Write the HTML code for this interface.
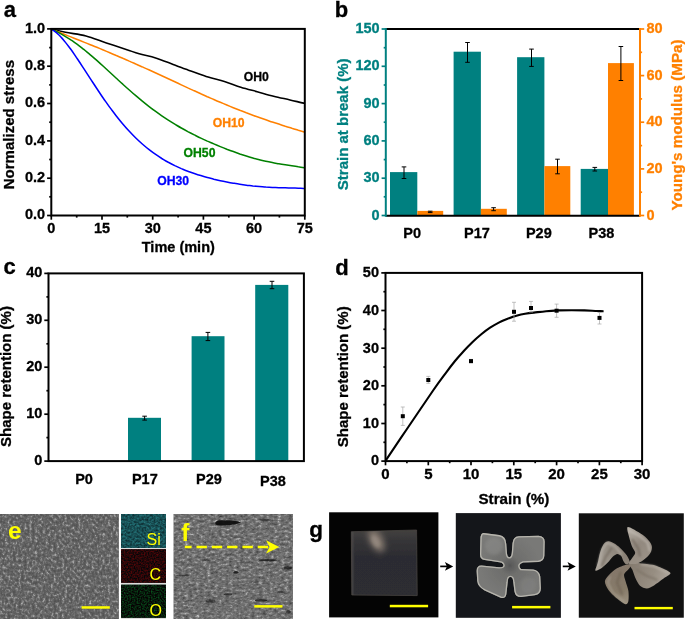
<!DOCTYPE html>
<html lang="en"><head><meta charset="utf-8"><title>Figure</title>
<style>html,body{margin:0;padding:0;background:#fff;}body{width:685px;height:619px;overflow:hidden;}svg{display:block;font-family:'Liberation Sans', Arial, sans-serif;}</style>
</head><body>
<svg width="685" height="619" viewBox="0 0 685 619">
<rect x="0" y="0" width="685" height="619" fill="#fff"/>
<g id="panel-a">
<clipPath id="clipA"><rect x="51.3" y="28.9" width="253.5" height="186.6"/></clipPath>
<path d="M51.3,28.9 C53.7,29.5 59.7,31.1 65.4,32.3 C71.2,33.5 79.1,34.2 86.0,35.9 C92.8,37.7 99.6,40.7 106.4,42.9 C113.2,45.2 121.4,47.9 126.9,49.7 C132.3,51.5 134.4,52.4 139.2,53.8 C144.0,55.2 150.2,56.2 155.6,57.9 C161.1,59.6 167.0,62.1 172.0,64.0 C176.9,65.9 182.0,67.9 185.3,69.1 C188.6,70.3 187.8,69.9 191.6,71.2 C195.4,72.5 202.6,75.2 208.1,77.0 C213.5,78.7 218.9,79.8 224.4,81.5 C229.9,83.2 235.4,85.5 240.8,87.2 C246.3,88.9 251.7,90.2 257.2,91.7 C262.7,93.2 268.2,94.8 273.6,96.2 C279.1,97.6 284.8,98.7 290.0,99.9 C295.2,101.1 302.3,102.9 304.8,103.4" fill="none" stroke="#000" stroke-width="1.55" stroke-linejoin="round" clip-path="url(#clipA)"/>
<path d="M51.3,28.9 C52.4,29.3 55.6,30.7 57.8,31.6 C60.0,32.5 62.1,33.4 64.3,34.3 C66.5,35.2 68.6,36.0 70.8,36.9 C73.0,37.8 75.1,38.6 77.3,39.5 C79.5,40.4 81.6,41.2 83.8,42.1 C86.0,43.0 88.1,43.8 90.3,44.7 C92.5,45.6 94.6,46.5 96.8,47.3 C99.0,48.2 101.1,49.1 103.3,50.0 C105.5,50.9 107.6,51.8 109.8,52.7 C112.0,53.6 114.1,54.5 116.3,55.5 C118.5,56.4 120.6,57.3 122.8,58.3 C125.0,59.2 127.1,60.1 129.3,61.1 C131.5,62.0 133.6,63.0 135.8,64.0 C138.0,64.9 140.1,65.9 142.3,66.9 C144.5,67.9 146.6,68.9 148.8,69.8 C151.0,70.8 153.1,71.8 155.3,72.8 C157.5,73.8 159.6,74.8 161.8,75.8 C164.0,76.8 166.1,77.8 168.3,78.8 C170.5,79.8 172.6,80.8 174.8,81.8 C177.0,82.9 179.1,83.9 181.3,84.9 C183.5,85.9 185.6,86.9 187.8,87.9 C190.0,88.8 192.1,89.8 194.3,90.8 C196.5,91.8 198.6,92.8 200.8,93.8 C203.0,94.7 205.1,95.7 207.3,96.7 C209.5,97.6 211.6,98.6 213.8,99.5 C216.0,100.5 218.1,101.4 220.3,102.3 C222.5,103.2 224.6,104.1 226.8,105.0 C229.0,105.9 231.1,106.8 233.3,107.7 C235.5,108.6 237.6,109.4 239.8,110.3 C242.0,111.1 244.1,111.9 246.3,112.8 C248.5,113.6 250.6,114.4 252.8,115.2 C255.0,116.0 257.1,116.8 259.3,117.5 C261.5,118.3 263.6,119.1 265.8,119.8 C268.0,120.5 270.1,121.3 272.3,122.0 C274.5,122.7 276.6,123.4 278.8,124.1 C281.0,124.8 283.1,125.5 285.3,126.2 C287.5,126.8 289.6,127.5 291.8,128.2 C294.0,128.8 296.1,129.5 298.3,130.2 C300.5,130.8 303.7,131.8 304.8,132.1" fill="none" stroke="#ff8000" stroke-width="1.55" stroke-linejoin="round" clip-path="url(#clipA)"/>
<path d="M51.3,28.9 C52.4,29.4 55.6,31.0 57.8,32.1 C60.0,33.3 62.1,34.5 64.3,35.8 C66.5,37.1 68.6,38.4 70.8,39.9 C73.0,41.3 75.1,42.9 77.3,44.4 C79.5,46.0 81.6,47.7 83.8,49.4 C86.0,51.2 88.1,53.0 90.3,54.8 C92.5,56.6 94.6,58.5 96.8,60.4 C99.0,62.4 101.1,64.3 103.3,66.3 C105.5,68.3 107.6,70.3 109.8,72.3 C112.0,74.3 114.1,76.3 116.3,78.3 C118.5,80.3 120.6,82.3 122.8,84.2 C125.0,86.2 127.1,88.1 129.3,90.0 C131.5,92.0 133.6,93.9 135.8,95.7 C138.0,97.6 140.1,99.4 142.3,101.1 C144.5,102.9 146.6,104.6 148.8,106.3 C151.0,108.0 153.1,109.6 155.3,111.2 C157.5,112.8 159.6,114.3 161.8,115.8 C164.0,117.3 166.1,118.8 168.3,120.2 C170.5,121.6 172.6,122.9 174.8,124.2 C177.0,125.5 179.1,126.8 181.3,128.0 C183.5,129.2 185.6,130.4 187.8,131.6 C190.0,132.7 192.1,133.8 194.3,134.9 C196.5,136.0 198.6,137.1 200.8,138.1 C203.0,139.1 205.1,140.1 207.3,141.1 C209.5,142.0 211.6,143.0 213.8,143.9 C216.0,144.8 218.1,145.7 220.3,146.6 C222.5,147.5 224.6,148.3 226.8,149.2 C229.0,150.0 231.1,150.8 233.3,151.6 C235.5,152.4 237.6,153.1 239.8,153.9 C242.0,154.6 244.1,155.3 246.3,156.0 C248.5,156.7 250.6,157.3 252.8,157.9 C255.0,158.6 257.1,159.1 259.3,159.7 C261.5,160.3 263.6,160.8 265.8,161.3 C268.0,161.8 270.1,162.2 272.3,162.6 C274.5,163.1 276.6,163.4 278.8,163.8 C281.0,164.2 283.1,164.5 285.3,164.8 C287.5,165.1 289.6,165.4 291.8,165.7 C294.0,166.0 296.1,166.3 298.3,166.7 C300.5,167.0 303.7,167.6 304.8,167.8" fill="none" stroke="#008000" stroke-width="1.55" stroke-linejoin="round" clip-path="url(#clipA)"/>
<path d="M51.3,28.9 C52.4,29.7 55.6,31.9 57.8,33.9 C60.0,35.8 62.1,38.3 64.3,40.9 C66.5,43.4 68.6,46.3 70.8,49.3 C73.0,52.3 75.1,55.5 77.3,58.7 C79.5,61.9 81.6,65.2 83.8,68.6 C86.0,71.9 88.1,75.3 90.3,78.6 C92.5,81.9 94.6,85.3 96.8,88.5 C99.0,91.8 101.1,95.1 103.3,98.2 C105.5,101.3 107.6,104.4 109.8,107.4 C112.0,110.3 114.1,113.2 116.3,116.0 C118.5,118.8 120.6,121.4 122.8,124.0 C125.0,126.6 127.1,129.0 129.3,131.3 C131.5,133.7 133.6,135.9 135.8,138.0 C138.0,140.1 140.1,142.1 142.3,144.0 C144.5,145.9 146.6,147.7 148.8,149.4 C151.0,151.1 153.1,152.7 155.3,154.2 C157.5,155.7 159.6,157.1 161.8,158.5 C164.0,159.8 166.1,161.1 168.3,162.3 C170.5,163.4 172.6,164.5 174.8,165.6 C177.0,166.6 179.1,167.6 181.3,168.6 C183.5,169.5 185.6,170.4 187.8,171.2 C190.0,172.0 192.1,172.8 194.3,173.5 C196.5,174.3 198.6,175.0 200.8,175.6 C203.0,176.3 205.1,176.9 207.3,177.5 C209.5,178.1 211.6,178.6 213.8,179.2 C216.0,179.7 218.1,180.2 220.3,180.7 C222.5,181.2 224.6,181.6 226.8,182.0 C229.0,182.5 231.1,182.9 233.3,183.2 C235.5,183.6 237.6,184.0 239.8,184.3 C242.0,184.6 244.1,184.9 246.3,185.2 C248.5,185.5 250.6,185.7 252.8,186.0 C255.0,186.2 257.1,186.4 259.3,186.6 C261.5,186.8 263.6,186.9 265.8,187.1 C268.0,187.2 270.1,187.3 272.3,187.4 C274.5,187.5 276.6,187.6 278.8,187.7 C281.0,187.7 283.1,187.8 285.3,187.8 C287.5,187.9 289.6,187.9 291.8,188.0 C294.0,188.1 296.1,188.1 298.3,188.2 C300.5,188.3 303.7,188.5 304.8,188.5" fill="none" stroke="#0000ff" stroke-width="1.55" stroke-linejoin="round" clip-path="url(#clipA)"/>
<rect x="51.3" y="28.9" width="253.5" height="186.6" fill="none" stroke="#000" stroke-width="2.00"/>
<line x1="47.1" y1="215.5" x2="51.3" y2="215.5" stroke="#000" stroke-width="1.70"/>
<text x="45.2" y="219.3" font-size="14.50" text-anchor="end" fill="#000" stroke="#000" stroke-width="0.30" font-weight="bold">0.0</text>
<line x1="49.2" y1="196.8" x2="51.3" y2="196.8" stroke="#000" stroke-width="1.70"/>
<line x1="47.1" y1="178.2" x2="51.3" y2="178.2" stroke="#000" stroke-width="1.70"/>
<text x="45.2" y="182.0" font-size="14.50" text-anchor="end" fill="#000" stroke="#000" stroke-width="0.30" font-weight="bold">0.2</text>
<line x1="49.2" y1="159.5" x2="51.3" y2="159.5" stroke="#000" stroke-width="1.70"/>
<line x1="47.1" y1="140.9" x2="51.3" y2="140.9" stroke="#000" stroke-width="1.70"/>
<text x="45.2" y="144.7" font-size="14.50" text-anchor="end" fill="#000" stroke="#000" stroke-width="0.30" font-weight="bold">0.4</text>
<line x1="49.2" y1="122.2" x2="51.3" y2="122.2" stroke="#000" stroke-width="1.70"/>
<line x1="47.1" y1="103.5" x2="51.3" y2="103.5" stroke="#000" stroke-width="1.70"/>
<text x="45.2" y="107.3" font-size="14.50" text-anchor="end" fill="#000" stroke="#000" stroke-width="0.30" font-weight="bold">0.6</text>
<line x1="49.2" y1="84.9" x2="51.3" y2="84.9" stroke="#000" stroke-width="1.70"/>
<line x1="47.1" y1="66.2" x2="51.3" y2="66.2" stroke="#000" stroke-width="1.70"/>
<text x="45.2" y="70.0" font-size="14.50" text-anchor="end" fill="#000" stroke="#000" stroke-width="0.30" font-weight="bold">0.8</text>
<line x1="49.2" y1="47.6" x2="51.3" y2="47.6" stroke="#000" stroke-width="1.70"/>
<line x1="47.1" y1="28.9" x2="51.3" y2="28.9" stroke="#000" stroke-width="1.70"/>
<text x="45.2" y="32.7" font-size="14.50" text-anchor="end" fill="#000" stroke="#000" stroke-width="0.30" font-weight="bold">1.0</text>
<line x1="51.3" y1="215.5" x2="51.3" y2="219.7" stroke="#000" stroke-width="1.70"/>
<text x="51.3" y="232.5" font-size="14.50" text-anchor="middle" fill="#000" stroke="#000" stroke-width="0.30" font-weight="bold">0</text>
<line x1="76.7" y1="215.5" x2="76.7" y2="217.6" stroke="#000" stroke-width="1.70"/>
<line x1="102.0" y1="215.5" x2="102.0" y2="219.7" stroke="#000" stroke-width="1.70"/>
<text x="102.0" y="232.5" font-size="14.50" text-anchor="middle" fill="#000" stroke="#000" stroke-width="0.30" font-weight="bold">15</text>
<line x1="127.3" y1="215.5" x2="127.3" y2="217.6" stroke="#000" stroke-width="1.70"/>
<line x1="152.7" y1="215.5" x2="152.7" y2="219.7" stroke="#000" stroke-width="1.70"/>
<text x="152.7" y="232.5" font-size="14.50" text-anchor="middle" fill="#000" stroke="#000" stroke-width="0.30" font-weight="bold">30</text>
<line x1="178.1" y1="215.5" x2="178.1" y2="217.6" stroke="#000" stroke-width="1.70"/>
<line x1="203.4" y1="215.5" x2="203.4" y2="219.7" stroke="#000" stroke-width="1.70"/>
<text x="203.4" y="232.5" font-size="14.50" text-anchor="middle" fill="#000" stroke="#000" stroke-width="0.30" font-weight="bold">45</text>
<line x1="228.8" y1="215.5" x2="228.8" y2="217.6" stroke="#000" stroke-width="1.70"/>
<line x1="254.1" y1="215.5" x2="254.1" y2="219.7" stroke="#000" stroke-width="1.70"/>
<text x="254.1" y="232.5" font-size="14.50" text-anchor="middle" fill="#000" stroke="#000" stroke-width="0.30" font-weight="bold">60</text>
<line x1="279.4" y1="215.5" x2="279.4" y2="217.6" stroke="#000" stroke-width="1.70"/>
<line x1="304.8" y1="215.5" x2="304.8" y2="219.7" stroke="#000" stroke-width="1.70"/>
<text x="304.8" y="232.5" font-size="14.50" text-anchor="middle" fill="#000" stroke="#000" stroke-width="0.30" font-weight="bold">75</text>
<text x="178.3" y="252.0" font-size="14.50" text-anchor="middle" fill="#000" stroke="#000" stroke-width="0.30" font-weight="bold">Time (min)</text>
<text x="0.0" y="0.0" font-size="15.00" text-anchor="middle" fill="#000" stroke="#000" stroke-width="0.30" font-weight="bold" transform="translate(14.4 124.6) rotate(-90)">Normalized stress</text>
<text x="256.3" y="80.9" font-size="12.20" text-anchor="middle" fill="#000" stroke="#000" stroke-width="0.30" font-weight="bold">OH0</text>
<text x="228.7" y="126.9" font-size="12.20" text-anchor="middle" fill="#ff8000" stroke="#ff8000" stroke-width="0.30" font-weight="bold">OH10</text>
<text x="199.5" y="156.5" font-size="12.20" text-anchor="middle" fill="#008000" stroke="#008000" stroke-width="0.30" font-weight="bold">OH50</text>
<text x="173.2" y="185.1" font-size="12.20" text-anchor="middle" fill="#0000ff" stroke="#0000ff" stroke-width="0.30" font-weight="bold">OH30</text>
<text x="9.8" y="16.8" font-size="22.00" text-anchor="middle" fill="#000" stroke="#000" stroke-width="0.30" font-weight="bold">a</text>
</g>
<g id="panel-b">
<rect x="390.0" y="172.1" width="27.3" height="43.7" fill="#008080"/>
<rect x="417.3" y="210.9" width="25.9" height="4.9" fill="#ff8000"/>
<rect x="453.6" y="51.7" width="27.3" height="164.1" fill="#008080"/>
<rect x="480.9" y="208.8" width="25.9" height="7.0" fill="#ff8000"/>
<rect x="517.1" y="57.2" width="27.3" height="158.6" fill="#008080"/>
<rect x="544.4" y="166.1" width="25.9" height="49.7" fill="#ff8000"/>
<rect x="580.7" y="168.9" width="27.3" height="46.9" fill="#008080"/>
<rect x="608.0" y="63.1" width="25.9" height="152.7" fill="#ff8000"/>
<line x1="404.0" y1="166.9" x2="404.0" y2="178.5" stroke="#000" stroke-width="1.00"/>
<line x1="401.7" y1="166.9" x2="406.3" y2="166.9" stroke="#000" stroke-width="1.00"/>
<line x1="401.7" y1="178.5" x2="406.3" y2="178.5" stroke="#000" stroke-width="1.00"/>
<line x1="467.5" y1="42.5" x2="467.5" y2="62.3" stroke="#000" stroke-width="1.00"/>
<line x1="465.2" y1="42.5" x2="469.8" y2="42.5" stroke="#000" stroke-width="1.00"/>
<line x1="465.2" y1="62.3" x2="469.8" y2="62.3" stroke="#000" stroke-width="1.00"/>
<line x1="531.5" y1="49.1" x2="531.5" y2="66.4" stroke="#000" stroke-width="1.00"/>
<line x1="529.2" y1="49.1" x2="533.8" y2="49.1" stroke="#000" stroke-width="1.00"/>
<line x1="529.2" y1="66.4" x2="533.8" y2="66.4" stroke="#000" stroke-width="1.00"/>
<line x1="594.8" y1="167.4" x2="594.8" y2="171.0" stroke="#000" stroke-width="1.00"/>
<line x1="592.5" y1="167.4" x2="597.1" y2="167.4" stroke="#000" stroke-width="1.00"/>
<line x1="592.5" y1="171.0" x2="597.1" y2="171.0" stroke="#000" stroke-width="1.00"/>
<line x1="430.2" y1="211.2" x2="430.2" y2="212.6" stroke="#000" stroke-width="1.00"/>
<line x1="427.9" y1="211.2" x2="432.5" y2="211.2" stroke="#000" stroke-width="1.00"/>
<line x1="427.9" y1="212.6" x2="432.5" y2="212.6" stroke="#000" stroke-width="1.00"/>
<line x1="493.6" y1="207.7" x2="493.6" y2="210.7" stroke="#000" stroke-width="1.00"/>
<line x1="491.3" y1="207.7" x2="495.9" y2="207.7" stroke="#000" stroke-width="1.00"/>
<line x1="491.3" y1="210.7" x2="495.9" y2="210.7" stroke="#000" stroke-width="1.00"/>
<line x1="557.5" y1="159.2" x2="557.5" y2="173.8" stroke="#000" stroke-width="1.00"/>
<line x1="555.2" y1="159.2" x2="559.8" y2="159.2" stroke="#000" stroke-width="1.00"/>
<line x1="555.2" y1="173.8" x2="559.8" y2="173.8" stroke="#000" stroke-width="1.00"/>
<line x1="620.9" y1="46.5" x2="620.9" y2="80.5" stroke="#000" stroke-width="1.00"/>
<line x1="618.6" y1="46.5" x2="623.2" y2="46.5" stroke="#000" stroke-width="1.00"/>
<line x1="618.6" y1="80.5" x2="623.2" y2="80.5" stroke="#000" stroke-width="1.00"/>
<line x1="385.8" y1="29.0" x2="640.0" y2="29.0" stroke="#000" stroke-width="2.00"/>
<line x1="385.8" y1="215.8" x2="640.0" y2="215.8" stroke="#000" stroke-width="2.00"/>
<line x1="385.8" y1="28.0" x2="385.8" y2="216.8" stroke="#008080" stroke-width="2.00"/>
<line x1="640.0" y1="28.0" x2="640.0" y2="216.8" stroke="#ff8000" stroke-width="2.00"/>
<line x1="381.6" y1="215.5" x2="385.8" y2="215.5" stroke="#008080" stroke-width="1.70"/>
<text x="379.6" y="219.5" font-size="14.50" text-anchor="end" fill="#008080" stroke="#008080" stroke-width="0.30" font-weight="bold">0</text>
<line x1="383.7" y1="196.8" x2="385.8" y2="196.8" stroke="#008080" stroke-width="1.70"/>
<line x1="381.6" y1="178.2" x2="385.8" y2="178.2" stroke="#008080" stroke-width="1.70"/>
<text x="379.6" y="182.2" font-size="14.50" text-anchor="end" fill="#008080" stroke="#008080" stroke-width="0.30" font-weight="bold">30</text>
<line x1="383.7" y1="159.6" x2="385.8" y2="159.6" stroke="#008080" stroke-width="1.70"/>
<line x1="381.6" y1="140.9" x2="385.8" y2="140.9" stroke="#008080" stroke-width="1.70"/>
<text x="379.6" y="144.9" font-size="14.50" text-anchor="end" fill="#008080" stroke="#008080" stroke-width="0.30" font-weight="bold">60</text>
<line x1="383.7" y1="122.2" x2="385.8" y2="122.2" stroke="#008080" stroke-width="1.70"/>
<line x1="381.6" y1="103.6" x2="385.8" y2="103.6" stroke="#008080" stroke-width="1.70"/>
<text x="379.6" y="107.6" font-size="14.50" text-anchor="end" fill="#008080" stroke="#008080" stroke-width="0.30" font-weight="bold">90</text>
<line x1="383.7" y1="85.0" x2="385.8" y2="85.0" stroke="#008080" stroke-width="1.70"/>
<line x1="381.6" y1="66.3" x2="385.8" y2="66.3" stroke="#008080" stroke-width="1.70"/>
<text x="379.6" y="70.3" font-size="14.50" text-anchor="end" fill="#008080" stroke="#008080" stroke-width="0.30" font-weight="bold">120</text>
<line x1="383.7" y1="47.7" x2="385.8" y2="47.7" stroke="#008080" stroke-width="1.70"/>
<line x1="381.6" y1="29.0" x2="385.8" y2="29.0" stroke="#008080" stroke-width="1.70"/>
<text x="379.6" y="33.0" font-size="14.50" text-anchor="end" fill="#008080" stroke="#008080" stroke-width="0.30" font-weight="bold">150</text>
<line x1="640.0" y1="215.5" x2="644.2" y2="215.5" stroke="#ff8000" stroke-width="1.70"/>
<text x="646.4" y="219.5" font-size="14.50" text-anchor="start" fill="#ff8000" stroke="#ff8000" stroke-width="0.30" font-weight="bold">0</text>
<line x1="640.0" y1="192.2" x2="642.1" y2="192.2" stroke="#ff8000" stroke-width="1.70"/>
<line x1="640.0" y1="168.9" x2="644.2" y2="168.9" stroke="#ff8000" stroke-width="1.70"/>
<text x="646.4" y="172.9" font-size="14.50" text-anchor="start" fill="#ff8000" stroke="#ff8000" stroke-width="0.30" font-weight="bold">20</text>
<line x1="640.0" y1="145.6" x2="642.1" y2="145.6" stroke="#ff8000" stroke-width="1.70"/>
<line x1="640.0" y1="122.2" x2="644.2" y2="122.2" stroke="#ff8000" stroke-width="1.70"/>
<text x="646.4" y="126.2" font-size="14.50" text-anchor="start" fill="#ff8000" stroke="#ff8000" stroke-width="0.30" font-weight="bold">40</text>
<line x1="640.0" y1="98.9" x2="642.1" y2="98.9" stroke="#ff8000" stroke-width="1.70"/>
<line x1="640.0" y1="75.6" x2="644.2" y2="75.6" stroke="#ff8000" stroke-width="1.70"/>
<text x="646.4" y="79.6" font-size="14.50" text-anchor="start" fill="#ff8000" stroke="#ff8000" stroke-width="0.30" font-weight="bold">60</text>
<line x1="640.0" y1="52.3" x2="642.1" y2="52.3" stroke="#ff8000" stroke-width="1.70"/>
<line x1="640.0" y1="29.0" x2="644.2" y2="29.0" stroke="#ff8000" stroke-width="1.70"/>
<text x="646.4" y="33.0" font-size="14.50" text-anchor="start" fill="#ff8000" stroke="#ff8000" stroke-width="0.30" font-weight="bold">80</text>
<text x="412.2" y="237.8" font-size="14.50" text-anchor="middle" fill="#000" stroke="#000" stroke-width="0.30" font-weight="bold">P0</text>
<text x="476.9" y="237.8" font-size="14.50" text-anchor="middle" fill="#000" stroke="#000" stroke-width="0.30" font-weight="bold">P17</text>
<text x="538.8" y="237.8" font-size="14.50" text-anchor="middle" fill="#000" stroke="#000" stroke-width="0.30" font-weight="bold">P29</text>
<text x="601.4" y="237.8" font-size="14.50" text-anchor="middle" fill="#000" stroke="#000" stroke-width="0.30" font-weight="bold">P38</text>
<text x="0.0" y="0.0" font-size="15.00" text-anchor="middle" fill="#008080" stroke="#008080" stroke-width="0.30" font-weight="bold" transform="translate(348.4 124.3) rotate(-90)">Strain at break (%)</text>
<text x="0.0" y="0.0" font-size="15.20" text-anchor="middle" fill="#ff8000" stroke="#ff8000" stroke-width="0.30" font-weight="bold" transform="translate(681.7 125.0) rotate(-90)">Young's modulus (MPa)</text>
<text x="341.4" y="17.4" font-size="22.00" text-anchor="middle" fill="#000" stroke="#000" stroke-width="0.30" font-weight="bold">b</text>
</g>
<g id="panel-c">
<rect x="128.0" y="417.8" width="33.0" height="43.3" fill="#008080"/>
<rect x="191.6" y="336.2" width="32.9" height="124.9" fill="#008080"/>
<rect x="255.2" y="284.9" width="33.1" height="176.2" fill="#008080"/>
<line x1="144.6" y1="416.2" x2="144.6" y2="420.1" stroke="#000" stroke-width="1.00"/>
<line x1="142.3" y1="416.2" x2="146.9" y2="416.2" stroke="#000" stroke-width="1.00"/>
<line x1="142.3" y1="420.1" x2="146.9" y2="420.1" stroke="#000" stroke-width="1.00"/>
<line x1="207.9" y1="332.4" x2="207.9" y2="340.6" stroke="#000" stroke-width="1.00"/>
<line x1="205.6" y1="332.4" x2="210.2" y2="332.4" stroke="#000" stroke-width="1.00"/>
<line x1="205.6" y1="340.6" x2="210.2" y2="340.6" stroke="#000" stroke-width="1.00"/>
<line x1="272.0" y1="281.3" x2="272.0" y2="288.7" stroke="#000" stroke-width="1.00"/>
<line x1="269.7" y1="281.3" x2="274.3" y2="281.3" stroke="#000" stroke-width="1.00"/>
<line x1="269.7" y1="288.7" x2="274.3" y2="288.7" stroke="#000" stroke-width="1.00"/>
<rect x="48.5" y="273.4" width="255.4" height="187.7" fill="none" stroke="#000" stroke-width="2.00"/>
<line x1="44.3" y1="461.1" x2="48.5" y2="461.1" stroke="#000" stroke-width="1.70"/>
<text x="42.4" y="465.1" font-size="14.50" text-anchor="end" fill="#000" stroke="#000" stroke-width="0.30" font-weight="bold">0</text>
<line x1="46.4" y1="437.6" x2="48.5" y2="437.6" stroke="#000" stroke-width="1.70"/>
<line x1="44.3" y1="414.2" x2="48.5" y2="414.2" stroke="#000" stroke-width="1.70"/>
<text x="42.4" y="418.2" font-size="14.50" text-anchor="end" fill="#000" stroke="#000" stroke-width="0.30" font-weight="bold">10</text>
<line x1="46.4" y1="390.7" x2="48.5" y2="390.7" stroke="#000" stroke-width="1.70"/>
<line x1="44.3" y1="367.2" x2="48.5" y2="367.2" stroke="#000" stroke-width="1.70"/>
<text x="42.4" y="371.2" font-size="14.50" text-anchor="end" fill="#000" stroke="#000" stroke-width="0.30" font-weight="bold">20</text>
<line x1="46.4" y1="343.8" x2="48.5" y2="343.8" stroke="#000" stroke-width="1.70"/>
<line x1="44.3" y1="320.3" x2="48.5" y2="320.3" stroke="#000" stroke-width="1.70"/>
<text x="42.4" y="324.3" font-size="14.50" text-anchor="end" fill="#000" stroke="#000" stroke-width="0.30" font-weight="bold">30</text>
<line x1="46.4" y1="296.9" x2="48.5" y2="296.9" stroke="#000" stroke-width="1.70"/>
<line x1="44.3" y1="273.4" x2="48.5" y2="273.4" stroke="#000" stroke-width="1.70"/>
<text x="42.4" y="277.4" font-size="14.50" text-anchor="end" fill="#000" stroke="#000" stroke-width="0.30" font-weight="bold">40</text>
<text x="84.0" y="484.3" font-size="14.50" text-anchor="middle" fill="#000" stroke="#000" stroke-width="0.30" font-weight="bold">P0</text>
<text x="144.8" y="484.3" font-size="14.50" text-anchor="middle" fill="#000" stroke="#000" stroke-width="0.30" font-weight="bold">P17</text>
<text x="209.0" y="484.3" font-size="14.50" text-anchor="middle" fill="#000" stroke="#000" stroke-width="0.30" font-weight="bold">P29</text>
<text x="273.0" y="485.6" font-size="14.50" text-anchor="middle" fill="#000" stroke="#000" stroke-width="0.30" font-weight="bold">P38</text>
<text x="0.0" y="0.0" font-size="15.00" text-anchor="middle" fill="#000" stroke="#000" stroke-width="0.30" font-weight="bold" transform="translate(11.4 376.5) rotate(-90)">Shape retention (%)</text>
<text x="9.6" y="273.7" font-size="22.00" text-anchor="middle" fill="#000" stroke="#000" stroke-width="0.30" font-weight="bold">c</text>
</g>
<g id="panel-d">
<path d="M385.8,460.4 C389.3,455.2 398.7,441.1 406.6,429.5 C414.5,417.9 426.5,400.0 433.1,390.5 C439.7,381.0 442.7,377.2 446.3,372.3 C449.9,367.4 452.1,364.6 455.0,361.0 C457.9,357.4 460.9,354.2 463.8,351.0 C466.7,347.8 469.7,344.8 472.6,342.0 C475.5,339.2 478.4,336.7 481.3,334.3 C484.2,331.9 487.2,329.6 490.1,327.7 C493.0,325.8 495.9,324.1 498.8,322.6 C501.7,321.1 504.7,319.9 507.6,318.8 C510.5,317.7 513.5,316.6 516.4,315.8 C519.3,315.0 522.2,314.3 525.1,313.8 C528.0,313.3 530.4,313.0 533.9,312.6 C537.4,312.2 541.9,311.6 546.1,311.2 C550.3,310.8 554.6,310.6 558.9,310.4 C563.1,310.2 567.4,310.2 571.6,310.2 C575.9,310.2 580.1,310.3 584.4,310.4 C588.7,310.5 594.0,310.9 597.2,311.0 C600.4,311.1 602.5,311.2 603.6,311.2" fill="none" stroke="#000" stroke-width="2.1" stroke-linejoin="round"/>
<line x1="402.8" y1="407.0" x2="402.8" y2="425.4" stroke="#a8a8a8" stroke-width="0.70"/>
<line x1="400.8" y1="407.0" x2="404.8" y2="407.0" stroke="#a8a8a8" stroke-width="0.70"/>
<line x1="400.8" y1="425.4" x2="404.8" y2="425.4" stroke="#a8a8a8" stroke-width="0.70"/>
<rect x="400.8" y="414.2" width="4.0" height="4.0" fill="#000"/>
<line x1="428.3" y1="376.4" x2="428.3" y2="383.3" stroke="#a8a8a8" stroke-width="0.70"/>
<line x1="426.3" y1="376.4" x2="430.3" y2="376.4" stroke="#a8a8a8" stroke-width="0.70"/>
<line x1="426.3" y1="383.3" x2="430.3" y2="383.3" stroke="#a8a8a8" stroke-width="0.70"/>
<rect x="426.3" y="378.0" width="4.0" height="4.0" fill="#000"/>
<line x1="471.0" y1="359.4" x2="471.0" y2="362.8" stroke="#a8a8a8" stroke-width="0.70"/>
<line x1="469.0" y1="359.4" x2="473.0" y2="359.4" stroke="#a8a8a8" stroke-width="0.70"/>
<line x1="469.0" y1="362.8" x2="473.0" y2="362.8" stroke="#a8a8a8" stroke-width="0.70"/>
<rect x="469.0" y="359.1" width="4.0" height="4.0" fill="#000"/>
<line x1="514.0" y1="302.3" x2="514.0" y2="321.2" stroke="#a8a8a8" stroke-width="0.70"/>
<line x1="512.0" y1="302.3" x2="516.0" y2="302.3" stroke="#a8a8a8" stroke-width="0.70"/>
<line x1="512.0" y1="321.2" x2="516.0" y2="321.2" stroke="#a8a8a8" stroke-width="0.70"/>
<rect x="512.0" y="309.8" width="4.0" height="4.0" fill="#000"/>
<line x1="531.0" y1="301.4" x2="531.0" y2="312.0" stroke="#a8a8a8" stroke-width="0.70"/>
<line x1="529.0" y1="301.4" x2="533.0" y2="301.4" stroke="#a8a8a8" stroke-width="0.70"/>
<line x1="529.0" y1="312.0" x2="533.0" y2="312.0" stroke="#a8a8a8" stroke-width="0.70"/>
<rect x="529.0" y="306.0" width="4.0" height="4.0" fill="#000"/>
<line x1="556.6" y1="304.1" x2="556.6" y2="317.3" stroke="#a8a8a8" stroke-width="0.70"/>
<line x1="554.6" y1="304.1" x2="558.6" y2="304.1" stroke="#a8a8a8" stroke-width="0.70"/>
<line x1="554.6" y1="317.3" x2="558.6" y2="317.3" stroke="#a8a8a8" stroke-width="0.70"/>
<rect x="554.6" y="308.7" width="4.0" height="4.0" fill="#000"/>
<line x1="599.5" y1="312.5" x2="599.5" y2="324.0" stroke="#a8a8a8" stroke-width="0.70"/>
<line x1="597.5" y1="312.5" x2="601.5" y2="312.5" stroke="#a8a8a8" stroke-width="0.70"/>
<line x1="597.5" y1="324.0" x2="601.5" y2="324.0" stroke="#a8a8a8" stroke-width="0.70"/>
<rect x="597.5" y="315.9" width="4.0" height="4.0" fill="#000"/>
<rect x="385.5" y="272.9" width="256.6" height="188.2" fill="none" stroke="#000" stroke-width="2.00"/>
<line x1="381.3" y1="461.1" x2="385.5" y2="461.1" stroke="#000" stroke-width="1.70"/>
<text x="379.0" y="465.4" font-size="14.50" text-anchor="end" fill="#000" stroke="#000" stroke-width="0.30" font-weight="bold">0</text>
<line x1="383.4" y1="442.3" x2="385.5" y2="442.3" stroke="#000" stroke-width="1.70"/>
<line x1="381.3" y1="423.5" x2="385.5" y2="423.5" stroke="#000" stroke-width="1.70"/>
<text x="379.0" y="427.8" font-size="14.50" text-anchor="end" fill="#000" stroke="#000" stroke-width="0.30" font-weight="bold">10</text>
<line x1="383.4" y1="404.6" x2="385.5" y2="404.6" stroke="#000" stroke-width="1.70"/>
<line x1="381.3" y1="385.8" x2="385.5" y2="385.8" stroke="#000" stroke-width="1.70"/>
<text x="379.0" y="390.1" font-size="14.50" text-anchor="end" fill="#000" stroke="#000" stroke-width="0.30" font-weight="bold">20</text>
<line x1="383.4" y1="367.0" x2="385.5" y2="367.0" stroke="#000" stroke-width="1.70"/>
<line x1="381.3" y1="348.2" x2="385.5" y2="348.2" stroke="#000" stroke-width="1.70"/>
<text x="379.0" y="352.5" font-size="14.50" text-anchor="end" fill="#000" stroke="#000" stroke-width="0.30" font-weight="bold">30</text>
<line x1="383.4" y1="329.3" x2="385.5" y2="329.3" stroke="#000" stroke-width="1.70"/>
<line x1="381.3" y1="310.5" x2="385.5" y2="310.5" stroke="#000" stroke-width="1.70"/>
<text x="379.0" y="314.8" font-size="14.50" text-anchor="end" fill="#000" stroke="#000" stroke-width="0.30" font-weight="bold">40</text>
<line x1="383.4" y1="291.7" x2="385.5" y2="291.7" stroke="#000" stroke-width="1.70"/>
<line x1="381.3" y1="272.9" x2="385.5" y2="272.9" stroke="#000" stroke-width="1.70"/>
<text x="379.0" y="277.2" font-size="14.50" text-anchor="end" fill="#000" stroke="#000" stroke-width="0.30" font-weight="bold">50</text>
<line x1="385.5" y1="461.1" x2="385.5" y2="465.3" stroke="#000" stroke-width="1.70"/>
<text x="385.5" y="479.4" font-size="15.00" text-anchor="middle" fill="#000" stroke="#000" stroke-width="0.30" font-weight="bold">0</text>
<line x1="406.9" y1="461.1" x2="406.9" y2="463.2" stroke="#000" stroke-width="1.70"/>
<line x1="428.3" y1="461.1" x2="428.3" y2="465.3" stroke="#000" stroke-width="1.70"/>
<text x="428.3" y="479.4" font-size="15.00" text-anchor="middle" fill="#000" stroke="#000" stroke-width="0.30" font-weight="bold">5</text>
<line x1="449.7" y1="461.1" x2="449.7" y2="463.2" stroke="#000" stroke-width="1.70"/>
<line x1="471.0" y1="461.1" x2="471.0" y2="465.3" stroke="#000" stroke-width="1.70"/>
<text x="471.0" y="479.4" font-size="15.00" text-anchor="middle" fill="#000" stroke="#000" stroke-width="0.30" font-weight="bold">10</text>
<line x1="492.4" y1="461.1" x2="492.4" y2="463.2" stroke="#000" stroke-width="1.70"/>
<line x1="513.8" y1="461.1" x2="513.8" y2="465.3" stroke="#000" stroke-width="1.70"/>
<text x="513.8" y="479.4" font-size="15.00" text-anchor="middle" fill="#000" stroke="#000" stroke-width="0.30" font-weight="bold">15</text>
<line x1="535.2" y1="461.1" x2="535.2" y2="463.2" stroke="#000" stroke-width="1.70"/>
<line x1="556.6" y1="461.1" x2="556.6" y2="465.3" stroke="#000" stroke-width="1.70"/>
<text x="556.6" y="479.4" font-size="15.00" text-anchor="middle" fill="#000" stroke="#000" stroke-width="0.30" font-weight="bold">20</text>
<line x1="578.0" y1="461.1" x2="578.0" y2="463.2" stroke="#000" stroke-width="1.70"/>
<line x1="599.4" y1="461.1" x2="599.4" y2="465.3" stroke="#000" stroke-width="1.70"/>
<text x="599.4" y="479.4" font-size="15.00" text-anchor="middle" fill="#000" stroke="#000" stroke-width="0.30" font-weight="bold">25</text>
<line x1="620.8" y1="461.1" x2="620.8" y2="463.2" stroke="#000" stroke-width="1.70"/>
<line x1="642.1" y1="461.1" x2="642.1" y2="465.3" stroke="#000" stroke-width="1.70"/>
<text x="642.1" y="479.4" font-size="15.00" text-anchor="middle" fill="#000" stroke="#000" stroke-width="0.30" font-weight="bold">30</text>
<text x="513.9" y="504.2" font-size="15.20" text-anchor="middle" fill="#000" stroke="#000" stroke-width="0.30" font-weight="bold">Strain (%)</text>
<text x="0.0" y="0.0" font-size="15.00" text-anchor="middle" fill="#000" stroke="#000" stroke-width="0.30" font-weight="bold" transform="translate(347.9 376.8) rotate(-90)">Shape retention (%)</text>
<text x="342.0" y="274.9" font-size="22.00" text-anchor="middle" fill="#000" stroke="#000" stroke-width="0.30" font-weight="bold">d</text>
</g>
<defs>
<filter id="semE" x="0" y="0" width="100%" height="100%" color-interpolation-filters="sRGB">
<feTurbulence type="fractalNoise" baseFrequency="0.37 0.33" numOctaves="3" seed="3" result="n"/>
<feColorMatrix in="n" type="matrix" values="1 0 0 0 0  1 0 0 0 0  1 0 0 0 0  0 0 0 0 1"/>
<feComponentTransfer>
<feFuncR type="table" tableValues="0.31 0.31 0.32 0.34 0.365 0.395 0.45 0.54 0.64 0.72 0.78"/>
<feFuncG type="table" tableValues="0.31 0.31 0.32 0.34 0.365 0.395 0.45 0.54 0.64 0.72 0.78"/>
<feFuncB type="table" tableValues="0.31 0.31 0.32 0.34 0.365 0.395 0.45 0.54 0.64 0.72 0.78"/>
</feComponentTransfer>
</filter>
<filter id="semF" x="0" y="0" width="100%" height="100%" color-interpolation-filters="sRGB">
<feTurbulence type="fractalNoise" baseFrequency="0.27 0.39" numOctaves="3" seed="11" result="n"/>
<feColorMatrix in="n" type="matrix" values="1 0 0 0 0  1 0 0 0 0  1 0 0 0 0  0 0 0 0 1"/>
<feComponentTransfer>
<feFuncR type="table" tableValues="0.2 0.25 0.31 0.36 0.40 0.435 0.48 0.56 0.66 0.76 0.82"/>
<feFuncG type="table" tableValues="0.2 0.25 0.31 0.36 0.40 0.435 0.48 0.56 0.66 0.76 0.82"/>
<feFuncB type="table" tableValues="0.2 0.25 0.31 0.36 0.40 0.435 0.48 0.56 0.66 0.76 0.82"/>
</feComponentTransfer>
</filter>
<filter id="edsSi" x="0" y="0" width="100%" height="100%" color-interpolation-filters="sRGB">
<feTurbulence type="fractalNoise" baseFrequency="0.43 0.47" numOctaves="2" seed="5" result="n"/>
<feColorMatrix in="n" type="matrix" values="0.15 0 0 0 0.02  0.48 0 0 0 0.075  0.48 0 0 0 0.095  0 0 0 0 1"/>
</filter>
<filter id="edsC" x="0" y="0" width="100%" height="100%" color-interpolation-filters="sRGB">
<feTurbulence type="fractalNoise" baseFrequency="0.7" numOctaves="1" seed="8" result="n"/>
<feColorMatrix in="n" type="matrix" values="0.75 0 0 0 -0.225  0 0 0 0 0.022  0 0 0 0 0.03  0 0 0 0 1"/>
</filter>
<filter id="edsO" x="0" y="0" width="100%" height="100%" color-interpolation-filters="sRGB">
<feTurbulence type="fractalNoise" baseFrequency="0.7" numOctaves="1" seed="13" result="n"/>
<feColorMatrix in="n" type="matrix" values="0 0 0 0 0.025  0 0.75 0 0 -0.27  0 0.22 0 0 -0.065  0 0 0 0 1"/>
</filter>
<filter id="blur1" x="-60%" y="-60%" width="220%" height="220%"><feGaussianBlur stdDeviation="0.9"/></filter>
<filter id="blur2" x="-60%" y="-60%" width="220%" height="220%"><feGaussianBlur stdDeviation="1.6"/></filter>
<filter id="blur3" x="-60%" y="-60%" width="220%" height="220%"><feGaussianBlur stdDeviation="3"/></filter>
<filter id="blur05" x="-60%" y="-60%" width="220%" height="220%"><feGaussianBlur stdDeviation="0.5"/></filter>
</defs>
<g id="panel-e">
<clipPath id="clipE"><rect x="0.00" y="514.00" width="118.70" height="105.50"/></clipPath>
<g clip-path="url(#clipE)">
<rect x="-1" y="513" width="122" height="109" fill="#6b6b6b"/>
<rect x="-1" y="513" width="122" height="109" filter="url(#semE)"/>
</g>
<rect x="81.6" y="606.2" width="28.2" height="2.5" fill="#ffff00"/>
<text x="8.0" y="538.6" font-size="24.5" font-weight="bold" fill="#ffff00">e</text>
<rect x="121.1" y="514.0" width="44.9" height="105.5" fill="#dcdcdc"/>
<clipPath id="clipSi"><rect x="121.10" y="514.00" width="44.90" height="34.00"/></clipPath>
<g clip-path="url(#clipSi)">
<rect x="120" y="513" width="48" height="38" fill="#1c5a5e"/>
<rect x="120" y="513" width="48" height="38" filter="url(#edsSi)"/>
</g>
<clipPath id="clipC"><rect x="121.10" y="549.30" width="44.90" height="33.40"/></clipPath>
<g clip-path="url(#clipC)">
<rect x="120" y="548" width="48" height="37" fill="#260606"/>
<rect x="120" y="548" width="48" height="37" filter="url(#edsC)"/>
</g>
<clipPath id="clipO"><rect x="121.10" y="584.70" width="44.90" height="33.00"/></clipPath>
<g clip-path="url(#clipO)">
<rect x="120" y="583" width="48" height="37" fill="#061a0c"/>
<rect x="120" y="583" width="48" height="37" filter="url(#edsO)"/>
</g>
<text x="146.6" y="544.8" font-size="16" fill="#ffff00">Si</text>
<text x="149.4" y="579.7" font-size="16" fill="#ffff00">C</text>
<text x="149.5" y="615.6" font-size="16" fill="#ffff00">O</text>
</g>
<g id="panel-f">
<clipPath id="clipF"><rect x="173.3" y="513.6" width="119.5" height="105.4"/></clipPath>
<clipPath id="clipF2"><rect x="173.70" y="513.90" width="119.10" height="105.60"/></clipPath>
<g clip-path="url(#clipF2)">
<rect x="172" y="512" width="123" height="109" fill="#707070"/>
<rect x="172" y="512" width="123" height="109" filter="url(#semF)"/>
</g>
<g clip-path="url(#clipF)"><g filter="url(#blur05)" fill="#0c0c0c">
<path d="M215.2,523.0 Q215.5,520.4 221,520.2 L232,520.6 Q238,521.3 241,522.6 Q236,524.6 229,525.2 L219,525.6 Q215.2,525.4 215.2,523.0 Z" opacity="0.95"/>
<ellipse cx="265.0" cy="519.8" rx="6.0" ry="0.9" opacity="0.50"/>
<ellipse cx="268.0" cy="560.2" rx="9.0" ry="1.0" opacity="0.75"/>
<ellipse cx="236.0" cy="572.4" rx="2.6" ry="1.1" opacity="0.80"/>
<ellipse cx="287.8" cy="567.8" rx="4.2" ry="1.6" opacity="0.75"/>
<ellipse cx="210.5" cy="601.0" rx="5.2" ry="1.8" opacity="0.50"/>
<ellipse cx="261.0" cy="600.4" rx="6.0" ry="1.1" opacity="0.70"/>
<ellipse cx="227.8" cy="594.3" rx="4.4" ry="1.0" opacity="0.60"/>
<ellipse cx="182.5" cy="575.4" rx="7.0" ry="0.9" opacity="0.40"/>
<ellipse cx="205.0" cy="560.0" rx="6.0" ry="0.8" opacity="0.30"/>
<ellipse cx="281.0" cy="592.0" rx="4.0" ry="1.1" opacity="0.40"/>
<ellipse cx="254.0" cy="582.0" rx="5.0" ry="0.8" opacity="0.30"/>
<ellipse cx="196.0" cy="589.0" rx="4.0" ry="0.8" opacity="0.30"/>
<ellipse cx="244.0" cy="548.0" rx="5.0" ry="0.8" opacity="0.25"/>
<ellipse cx="288.5" cy="612.0" rx="2.5" ry="1.8" opacity="0.50"/>
<ellipse cx="180.0" cy="550.0" rx="3.0" ry="0.8" opacity="0.30"/>
</g></g>
<line x1="184.8" y1="546.9" x2="268" y2="546.9" stroke="#ffff00" stroke-width="2.5" stroke-dasharray="10.4 4.9" stroke-dashoffset="3.6"/>
<path d="M279.2,546.9 L266.0,540.2 L269.6,546.9 L266.0,553.6 Z" fill="#ffff00"/>
<rect x="254.3" y="605.1" width="28.2" height="2.5" fill="#ffff00"/>
<text x="181.2" y="540.7" font-size="24.5" font-weight="bold" fill="#ffff00">f</text>
</g>
<g id="panel-g">
<text x="309.2" y="536.6" font-size="22.5" font-weight="bold" fill="#000" stroke="#000" stroke-width="0.3">g</text>
<rect x="329.1" y="512.3" width="109.3" height="105.1" fill="#040404"/>
<linearGradient id="g1base" x1="0" y1="530" x2="0" y2="596" gradientUnits="userSpaceOnUse"><stop offset="0" stop-color="#43413f"/><stop offset="0.16" stop-color="#363538"/><stop offset="0.4" stop-color="#2c2c31"/><stop offset="1" stop-color="#2d2d31"/></linearGradient>
<clipPath id="clipSq"><path d="M351.3,531.7 L416.6,530.0 L417.2,595.6 L351.8,595.0 Z"/></clipPath>
<g filter="url(#blur05)">
<path d="M351.3,531.7 L416.6,530.0 L417.2,595.6 L351.8,595.0 Z" fill="url(#g1base)" stroke="#474441" stroke-width="0.8"/>
<g clip-path="url(#clipSq)">
<ellipse cx="376.5" cy="540.5" rx="6.5" ry="12.5" transform="rotate(-28 376.5 540.5)" fill="#85796f" filter="url(#blur3)"/>
<ellipse cx="375.5" cy="541.5" rx="3.5" ry="6.5" transform="rotate(-28 375.5 541.5)" fill="#a1958b" opacity="0.55" filter="url(#blur2)"/>
<rect x="351" y="531" width="2.2" height="65" fill="#5a5753" opacity="0.7" filter="url(#blur1)"/>
</g>
</g>
<rect x="389.8" y="604.8" width="38.3" height="2.5" fill="#ffff00"/>
<path d="M440.2,566.4 H449.2" stroke="#000" stroke-width="1.7" fill="none"/>
<path d="M453.2,566.4 L444.9,562.1 L446.9,566.4 L444.9,570.7 Z" fill="#000"/>
<path d="M562.8,566.4 H571.8" stroke="#000" stroke-width="1.7" fill="none"/>
<path d="M575.8,566.4 L567.5,562.1 L569.5,566.4 L567.5,570.7 Z" fill="#000"/>
<rect x="455.8" y="513.1" width="105.1" height="104.7" fill="#14161a"/>
<radialGradient id="g2fill" cx="510" cy="565.5" r="30" gradientUnits="userSpaceOnUse"><stop offset="0" stop-color="#565656"/><stop offset="0.3" stop-color="#6e6e6c"/><stop offset="1" stop-color="#797977"/></radialGradient>
<clipPath id="clipClover"><path d="M483.6,533.1 L499.2,535.1 Q506.0,536.3 506.3,544.0 L506.9,552.3 Q507.2,557.2 509.3,557.2 Q511.5,557.2 511.8,552.3 L512.5,543.3 Q513.0,536.7 518.8,536.3 L538.4,535.7 Q544.7,536.0 544.7,541.8 L544.4,555.6 Q544.2,561.4 538.4,561.9 L523.2,562.5 Q517.1,564.8 521.0,569.0 L533.3,569.4 Q539.1,570.2 540.3,576.4 L540.9,588.3 Q540.9,594.4 534.8,595.3 L521.0,597.1 Q515.2,597.1 514.4,591.2 L513.3,582.2 Q513.0,577.0 510.4,577.0 Q507.9,577.0 507.7,582.2 L506.4,594.1 Q505.7,599.2 500.6,597.8 L484.6,590.5 Q477.8,586.9 477.2,581.1 L476.6,570.9 Q476.6,565.1 481.7,565.4 L499.2,567.3 Q504.5,567.3 503.1,564.3 Q502.1,562.2 499.2,562.2 L484.6,560.0 Q480.0,559.3 480.0,554.2 L480.4,539.6 Q480.4,532.8 483.6,533.1 Z"/></clipPath>
<g filter="url(#blur05)">
<path d="M483.6,533.1 L499.2,535.1 Q506.0,536.3 506.3,544.0 L506.9,552.3 Q507.2,557.2 509.3,557.2 Q511.5,557.2 511.8,552.3 L512.5,543.3 Q513.0,536.7 518.8,536.3 L538.4,535.7 Q544.7,536.0 544.7,541.8 L544.4,555.6 Q544.2,561.4 538.4,561.9 L523.2,562.5 Q517.1,564.8 521.0,569.0 L533.3,569.4 Q539.1,570.2 540.3,576.4 L540.9,588.3 Q540.9,594.4 534.8,595.3 L521.0,597.1 Q515.2,597.1 514.4,591.2 L513.3,582.2 Q513.0,577.0 510.4,577.0 Q507.9,577.0 507.7,582.2 L506.4,594.1 Q505.7,599.2 500.6,597.8 L484.6,590.5 Q477.8,586.9 477.2,581.1 L476.6,570.9 Q476.6,565.1 481.7,565.4 L499.2,567.3 Q504.5,567.3 503.1,564.3 Q502.1,562.2 499.2,562.2 L484.6,560.0 Q480.0,559.3 480.0,554.2 L480.4,539.6 Q480.4,532.8 483.6,533.1 Z" fill="url(#g2fill)"/>
<g clip-path="url(#clipClover)">
<ellipse cx="494" cy="546" rx="9" ry="9" fill="#8c8c8a" opacity="0.55" filter="url(#blur2)"/>
<ellipse cx="528" cy="585" rx="8" ry="8" fill="#868684" opacity="0.4" filter="url(#blur2)"/>
<path d="M483.6,533.1 L499.2,535.1 Q506.0,536.3 506.3,544.0 L506.9,552.3 Q507.2,557.2 509.3,557.2 Q511.5,557.2 511.8,552.3 L512.5,543.3 Q513.0,536.7 518.8,536.3 L538.4,535.7 Q544.7,536.0 544.7,541.8 L544.4,555.6 Q544.2,561.4 538.4,561.9 L523.2,562.5 Q517.1,564.8 521.0,569.0 L533.3,569.4 Q539.1,570.2 540.3,576.4 L540.9,588.3 Q540.9,594.4 534.8,595.3 L521.0,597.1 Q515.2,597.1 514.4,591.2 L513.3,582.2 Q513.0,577.0 510.4,577.0 Q507.9,577.0 507.7,582.2 L506.4,594.1 Q505.7,599.2 500.6,597.8 L484.6,590.5 Q477.8,586.9 477.2,581.1 L476.6,570.9 Q476.6,565.1 481.7,565.4 L499.2,567.3 Q504.5,567.3 503.1,564.3 Q502.1,562.2 499.2,562.2 L484.6,560.0 Q480.0,559.3 480.0,554.2 L480.4,539.6 Q480.4,532.8 483.6,533.1 Z" fill="none" stroke="#b6b4ac" stroke-width="2.6" stroke-linejoin="round" filter="url(#blur05)"/>
</g>
</g>
<rect x="512.1" y="605.9" width="38.3" height="2.5" fill="#ffff00"/>
<rect x="578.8" y="513.3" width="105.0" height="104.4" fill="#111111"/>
<linearGradient id="gTop" x1="628" y1="528" x2="650" y2="560" gradientUnits="userSpaceOnUse"><stop offset="0" stop-color="#b6afa6"/><stop offset="0.5" stop-color="#92897f"/><stop offset="1" stop-color="#9b9287"/></linearGradient>
<linearGradient id="gRight" x1="632" y1="565" x2="668" y2="580" gradientUnits="userSpaceOnUse"><stop offset="0" stop-color="#867c70"/><stop offset="0.6" stop-color="#978e82"/><stop offset="1" stop-color="#ada59b"/></linearGradient>
<linearGradient id="gBot" x1="612" y1="570" x2="628" y2="604" gradientUnits="userSpaceOnUse"><stop offset="0" stop-color="#84776a"/><stop offset="0.6" stop-color="#877b69"/><stop offset="1" stop-color="#9d9381"/></linearGradient>
<linearGradient id="gLeft" x1="628" y1="550" x2="596" y2="570" gradientUnits="userSpaceOnUse"><stop offset="0" stop-color="#857b70"/><stop offset="0.5" stop-color="#979086"/><stop offset="1" stop-color="#aca59c"/></linearGradient>
<g filter="url(#blur05)">
<path d="M628.1,564.3 C626.1,564.8 619.8,566.7 617.0,568.3 C614.2,569.9 610.2,573.6 608.5,575.4 C606.8,577.3 604.9,579.3 604.9,581.4 C604.9,583.5 606.8,587.5 608.5,589.9 C610.2,592.4 614.6,596.4 617.0,598.5 C619.4,600.5 623.9,603.8 625.5,604.2 C627.2,604.5 628.0,602.9 628.4,601.0 C628.8,599.2 628.8,593.9 628.4,591.1 C628.0,588.2 626.1,583.5 625.5,581.1 C624.9,578.7 623.7,576.0 624.1,574.3 C624.6,572.6 627.6,570.3 628.7,569.0 C629.7,567.7 631.3,565.9 631.2,565.2 C631.1,564.5 630.1,563.9 628.1,564.3 Z" fill="url(#gBot)"/>
<path d="M629.8,562.2 C629.9,560.9 628.1,557.3 626.7,555.3 C625.3,553.2 621.9,549.5 620.1,547.9 C618.3,546.2 615.8,544.4 614.2,543.5 C612.5,542.5 610.0,541.2 608.5,541.3 C607.0,541.4 604.7,542.5 603.5,544.2 C602.3,545.8 600.8,550.1 600.0,552.7 C599.1,555.3 598.5,560.1 597.8,562.6 C597.2,565.2 594.9,569.8 595.4,570.6 C595.9,571.4 599.6,569.5 601.4,568.3 C603.1,567.2 606.1,564.3 607.8,562.6 C609.4,561.0 611.4,557.9 612.7,556.7 C614.1,555.5 616.2,554.2 617.4,554.1 C618.7,554.1 620.4,555.2 621.3,556.2 C622.1,557.3 622.8,560.1 623.5,561.2 C624.3,562.4 625.4,564.2 626.2,564.3 C627.1,564.5 629.7,563.5 629.8,562.2 Z" fill="url(#gLeft)"/>
<path d="M629.1,562.4 C630.3,561.4 637.8,563.0 641.2,563.4 C644.5,563.7 649.3,564.0 652.5,564.8 C655.8,565.6 661.4,567.8 663.9,569.0 C666.5,570.3 670.5,572.0 670.5,573.3 C670.5,574.6 666.3,576.6 663.9,578.3 C661.6,580.0 656.4,583.9 654.0,585.4 C651.5,586.8 648.8,588.5 646.9,588.5 C644.9,588.6 641.7,587.1 640.0,585.7 C638.4,584.2 636.6,580.6 635.5,578.3 C634.4,576.0 633.3,572.0 632.4,569.8 C631.4,567.5 627.8,563.3 629.1,562.4 Z" fill="url(#gRight)"/>
<path d="M627.7,527.1 C629.0,526.4 635.6,530.5 638.3,532.1 C641.1,533.7 644.9,536.5 646.9,538.5 C648.8,540.4 651.3,543.8 651.8,545.9 C652.3,547.9 651.4,551.1 650.4,553.0 C649.4,554.9 646.6,557.6 644.7,559.1 C642.9,560.6 639.9,562.7 637.6,563.4 C635.4,564.0 629.8,564.2 629.1,563.4 C628.4,562.5 631.8,558.8 632.6,557.2 C633.5,555.7 635.3,554.3 635.2,552.7 C635.1,551.1 632.8,548.5 631.9,546.3 C631.1,544.1 629.7,539.8 629.1,537.1 C628.5,534.3 626.3,527.8 627.7,527.1 Z" fill="url(#gTop)"/>
<g filter="url(#blur1)" fill="none" stroke-linecap="round">
<path d="M632.6,539.9 L638.3,548.4 L639.8,555.5" stroke="#746a60" stroke-width="2.4" opacity="0.8"/>
<path d="M629.1,530.7 L639.0,535.6 L647.6,542.7 L649.7,550.6" stroke="#c8c2ba" stroke-width="1.6" opacity="0.8"/>
<path d="M636.9,569.8 L646.9,576.1 L656.8,579.7" stroke="#7a7064" stroke-width="2.2" opacity="0.7"/>
<path d="M641.2,564.3 L654.0,566.2 L667.5,572.6" stroke="#c4beb5" stroke-width="1.5" opacity="0.7"/>
<path d="M620.6,572.6 L617.0,582.5 L622.0,593.9" stroke="#6e6254" stroke-width="2.4" opacity="0.7"/>
<path d="M609.9,576.9 L607.8,582.5 L612.7,592.5 L624.1,601.7" stroke="#bdb5a8" stroke-width="1.4" opacity="0.6"/>
<path d="M611.3,548.4 L605.6,557.0 L602.1,565.5" stroke="#6f665d" stroke-width="2.2" opacity="0.7"/>
<path d="M621.3,554.1 L614.2,545.6 L607.1,542.7 L602.1,549.9 L597.8,565.5" stroke="#c6c0b8" stroke-width="1.5" opacity="0.7"/>
</g>
</g>
<rect x="634.5" y="606.9" width="38.3" height="2.4" fill="#ffff00"/>
</g>
</svg>
</body></html>
